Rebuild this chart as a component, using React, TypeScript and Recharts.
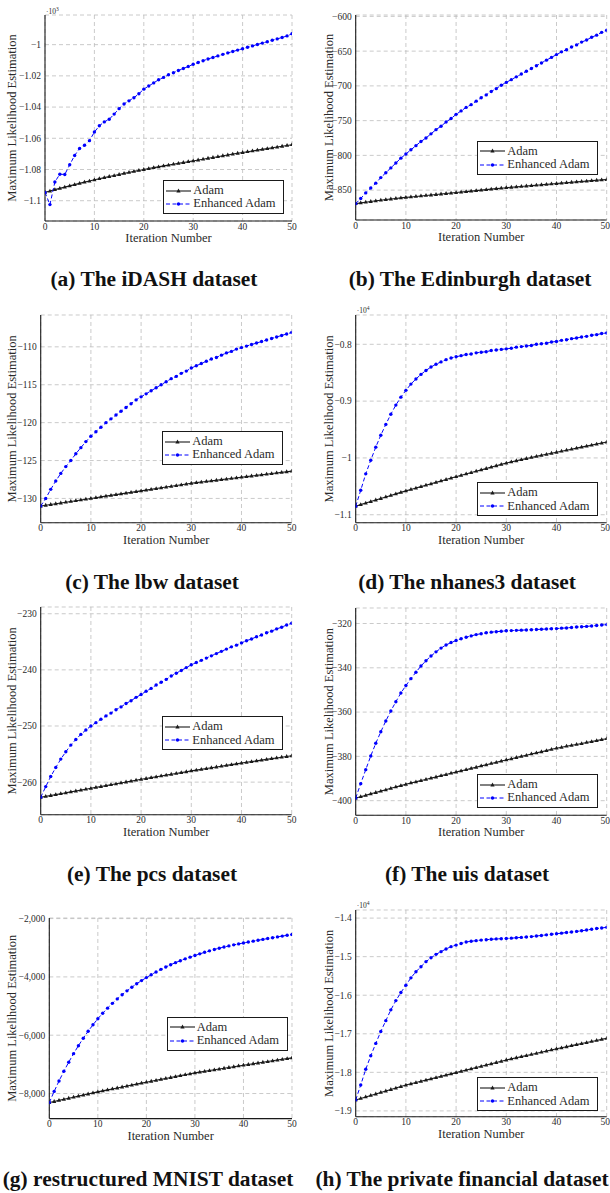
import React from "react";
import { LineChart, Line, XAxis, YAxis, CartesianGrid, Legend } from "recharts";

const SERIF = '"Liberation Serif", "Times New Roman", serif';
const BLUE = "#0000ff";
const INK = "#1a1a1a";
const TEXT = "#2a2a2a";

const iterations = [
  0, 1, 2, 3, 4, 5, 6, 7, 8, 9, 10, 11, 12, 13, 14, 15, 16, 17, 18, 19, 20, 21, 22, 23, 24, 25,
  26, 27, 28, 29, 30, 31, 32, 33, 34, 35, 36, 37, 38, 39, 40, 41, 42, 43, 44, 45, 46, 47, 48, 49, 50,
];
const iterationTicks = [0, 10, 20, 30, 40, 50];

// (a) iDASH
const idashAdam = [
  -1094.7, -1093.8, -1092.9, -1092.1, -1091.3, -1090.5, -1089.7, -1088.9, -1088.1, -1087.4, -1086.6,
  -1085.9, -1085.2, -1084.5, -1083.9, -1083.2, -1082.5, -1081.9, -1081.2, -1080.6, -1080.0,
  -1079.4, -1078.8, -1078.3, -1077.7, -1077.2, -1076.6, -1076.1, -1075.5, -1075.0, -1074.5,
  -1073.9, -1073.4, -1072.8, -1072.3, -1071.8, -1071.2, -1070.7, -1070.1, -1069.6, -1069.1,
  -1068.6, -1068.1, -1067.6, -1067.1, -1066.6, -1066.1, -1065.6, -1065.1, -1064.6, -1064.1,
];
const idashEnhanced = [
  -1094.7, -1102.5, -1088.0, -1083.0, -1083.2, -1077.0, -1071.0, -1066.5, -1064.5, -1061.5, -1056.0,
  -1052.0, -1049.5, -1047.8, -1044.5, -1041.0, -1038.0, -1036.0, -1034.0, -1031.5, -1028.5,
  -1026.5, -1024.5, -1022.5, -1021.0, -1019.3, -1018.0, -1016.6, -1015.3, -1014.0, -1012.6,
  -1011.4, -1010.3, -1009.2, -1008.2, -1007.2, -1006.2, -1005.3, -1004.4, -1003.5, -1002.6,
  -1001.7, -1000.8, -999.9, -999.0, -998.1, -997.2, -996.3, -995.4, -994.4, -993.0,
];
const idashTicks = [-1100, -1080, -1060, -1040, -1020, -1000];

// (b) Edinburgh
const edinburghAdam = [
  -869.5, -868.4, -867.4, -866.4, -865.4, -864.5, -863.6, -862.8, -862.0, -861.2, -860.5,
  -859.8, -859.1, -858.4, -857.7, -857.0, -856.3, -855.6, -854.9, -854.2, -853.5,
  -852.8, -852.1, -851.4, -850.7, -850.0, -849.3, -848.6, -847.9, -847.2, -846.5,
  -845.9, -845.3, -844.7, -844.1, -843.5, -842.9, -842.3, -841.7, -841.1, -840.5,
  -839.9, -839.3, -838.7, -838.1, -837.5, -837.0, -836.4, -835.8, -835.3, -834.7,
];
const edinburghEnhanced = [
  -869.5, -862, -854, -847, -840, -832, -825, -818, -811, -804, -798,
  -792, -786, -780, -775, -769, -763, -758, -752, -747, -741,
  -736, -731, -727, -722, -717, -713, -708, -704, -699, -695,
  -691, -687, -683, -679, -675, -671, -667, -663, -659, -655,
  -651, -648, -644, -641, -637, -634, -630, -627, -623, -620,
];
const edinburghTicks = [-850, -800, -750, -700, -650, -600];

// (c) lbw
const lbwAdam = [
  -131.0, -130.9, -130.8, -130.7, -130.6, -130.5, -130.4, -130.3, -130.2, -130.1, -130.0,
  -129.9, -129.8, -129.7, -129.6, -129.5, -129.4, -129.3, -129.2, -129.1, -129.0,
  -128.9, -128.8, -128.7, -128.6, -128.5, -128.4, -128.3, -128.2, -128.1, -128.0,
  -127.92, -127.84, -127.76, -127.68, -127.6, -127.52, -127.44, -127.36, -127.28, -127.2,
  -127.12, -127.04, -126.96, -126.88, -126.8, -126.72, -126.64, -126.56, -126.48, -126.4,
];
const lbwEnhanced = [
  -131.0, -130.0, -128.8, -127.7, -126.7, -125.8, -125.0, -124.1, -123.3, -122.5, -121.8,
  -121.2, -120.6, -120.0, -119.5, -119.0, -118.5, -118.0, -117.5, -117.0, -116.6,
  -116.2, -115.8, -115.4, -115.0, -114.6, -114.2, -113.9, -113.5, -113.2, -112.8,
  -112.5, -112.2, -111.9, -111.6, -111.4, -111.1, -110.8, -110.6, -110.3, -110.1,
  -109.9, -109.7, -109.5, -109.3, -109.1, -108.9, -108.7, -108.5, -108.3, -108.1,
];
const lbwTicks = [-130, -125, -120, -115, -110];

// (d) nhanes3
const nhanesAdam = [
  -10850, -10822, -10795, -10768, -10741, -10714, -10687, -10660, -10633, -10606, -10580,
  -10555, -10530, -10505, -10480, -10455, -10430, -10405, -10380, -10355, -10330,
  -10306, -10282, -10258, -10234, -10210, -10186, -10162, -10138, -10114, -10090,
  -10070, -10050, -10030, -10010, -9991, -9972, -9954, -9936, -9918, -9900,
  -9882, -9864, -9846, -9828, -9810, -9792, -9774, -9756, -9738, -9720,
];
const nhanesEnhanced = [
  -10850, -10570, -10280, -10040, -9810, -9600, -9410, -9230, -9070, -8930, -8810,
  -8700, -8610, -8530, -8460, -8400, -8350, -8310, -8270, -8240, -8220,
  -8200, -8180, -8170, -8150, -8140, -8130, -8110, -8100, -8090, -8080,
  -8070, -8050, -8040, -8030, -8020, -8000, -7990, -7980, -7960, -7950,
  -7930, -7920, -7900, -7890, -7870, -7860, -7840, -7830, -7810, -7800,
];
const nhanesTicks = [-11000, -10000, -9000, -8000];

// (e) pcs
const pcsAdam = [
  -262.7, -262.54, -262.38, -262.22, -262.06, -261.9, -261.74, -261.58, -261.42, -261.26, -261.1,
  -260.94, -260.78, -260.62, -260.46, -260.3, -260.14, -259.98, -259.82, -259.66, -259.5,
  -259.35, -259.2, -259.05, -258.9, -258.75, -258.6, -258.45, -258.3, -258.15, -258.0,
  -257.86, -257.72, -257.58, -257.44, -257.3, -257.16, -257.02, -256.88, -256.74, -256.6,
  -256.47, -256.34, -256.21, -256.08, -255.95, -255.82, -255.69, -255.56, -255.43, -255.3,
];
const pcsEnhanced = [
  -262.7, -260.8, -259.0, -257.4, -255.9, -254.6, -253.4, -252.4, -251.5, -250.7, -250.0,
  -249.4, -248.8, -248.2, -247.7, -247.1, -246.6, -246.0, -245.5, -244.9, -244.4,
  -243.8, -243.3, -242.7, -242.2, -241.7, -241.1, -240.6, -240.1, -239.6, -239.1,
  -238.7, -238.3, -237.9, -237.5, -237.1, -236.7, -236.3, -235.9, -235.6, -235.2,
  -234.8, -234.5, -234.1, -233.8, -233.4, -233.1, -232.7, -232.4, -232.0, -231.7,
];
const pcsTicks = [-260, -250, -240, -230];

// (f) uis
const uisAdam = [
  -398.8, -398.2, -397.6, -396.9, -396.3, -395.7, -395.1, -394.4, -393.8, -393.2, -392.6,
  -392.0, -391.5, -390.9, -390.4, -389.8, -389.3, -388.7, -388.2, -387.6, -387.1,
  -386.5, -386.0, -385.4, -384.9, -384.3, -383.8, -383.2, -382.7, -382.1, -381.6,
  -381.1, -380.5, -380.0, -379.5, -378.9, -378.4, -377.9, -377.4, -376.8, -376.3,
  -375.9, -375.4, -375.0, -374.6, -374.2, -373.7, -373.3, -372.9, -372.4, -372.0,
];
const uisEnhanced = [
  -398.8, -392.3, -386.0, -379.8, -374.1, -368.9, -364.0, -359.5, -355.3, -351.4, -348.0,
  -344.9, -342.0, -339.2, -336.8, -334.7, -332.8, -331.1, -329.7, -328.6, -327.7,
  -326.9, -326.2, -325.6, -325.0, -324.6, -324.2, -323.9, -323.7, -323.5, -323.3,
  -323.2, -323.1, -323.0, -322.9, -322.8, -322.7, -322.6, -322.5, -322.4, -322.3,
  -322.1, -322.0, -321.8, -321.6, -321.5, -321.3, -321.1, -320.9, -320.7, -320.5,
];
const uisTicks = [-400, -380, -360, -340, -320];

// (g) restructured MNIST
const mnistAdam = [
  -8310, -8273, -8236, -8199, -8162, -8126, -8089, -8052, -8016, -7979, -7943,
  -7909, -7876, -7843, -7810, -7777, -7743, -7710, -7677, -7644, -7611,
  -7579, -7547, -7515, -7483, -7451, -7419, -7387, -7355, -7323, -7291,
  -7265, -7239, -7212, -7186, -7160, -7134, -7108, -7081, -7055, -7029,
  -7004, -6979, -6953, -6928, -6903, -6878, -6853, -6827, -6802, -6777,
];
const mnistEnhanced = [
  -8310, -7928, -7571, -7237, -6925, -6633, -6360, -6105, -5866, -5643, -5434,
  -5247, -5072, -4908, -4755, -4612, -4478, -4353, -4236, -4127, -4025,
  -3924, -3830, -3742, -3660, -3583, -3511, -3444, -3381, -3322, -3267,
  -3210, -3157, -3107, -3060, -3016, -2975, -2937, -2901, -2868, -2837,
  -2805, -2774, -2744, -2714, -2685, -2656, -2628, -2601, -2574, -2547,
];
const mnistTicks = [-8000, -6000, -4000, -2000];

// (h) private financial
const financialAdam = [
  -18715, -18676, -18638, -18599, -18561, -18522, -18484, -18445, -18407, -18368, -18330,
  -18298, -18265, -18233, -18201, -18169, -18136, -18104, -18072, -18039, -18007,
  -17974, -17942, -17909, -17876, -17844, -17811, -17778, -17745, -17713, -17680,
  -17651, -17622, -17593, -17564, -17535, -17506, -17477, -17448, -17419, -17390,
  -17363, -17336, -17308, -17281, -17254, -17227, -17199, -17172, -17145, -17117,
];
const financialEnhanced = [
  -18715, -18330, -17920, -17570, -17250, -16940, -16660, -16380, -16140, -15930, -15740,
  -15550, -15390, -15260, -15130, -15030, -14940, -14870, -14800, -14740, -14700,
  -14660, -14620, -14600, -14585, -14570, -14560, -14550, -14540, -14535, -14530,
  -14520, -14510, -14500, -14490, -14480, -14465, -14450, -14435, -14420, -14405,
  -14390, -14375, -14360, -14345, -14330, -14310, -14290, -14270, -14255, -14240,
];
const financialTicks = [-19000, -18000, -17000, -16000, -15000, -14000];

const minus = (s: string) => s.replace("-", "\u2212");
const plain = (v: number) => minus(String(v));
const withComma = (v: number) => minus(v.toLocaleString("en-US"));
const scaled = (k: number) => (v: number) => minus(String(parseFloat((v / k).toFixed(2))));

interface Panel {
  key: string;
  caption: string;
  adam: number[];
  enhanced: number[];
  domain: [number, number];
  ticks: number[];
  format: (v: number) => string;
  exponent?: string;
  col: number;
  plot: { l: number; r: number; t: number; b: number };
  legend: { x: number; y: number };
  captionPos: { x: number; y: number };
}

const panels: Panel[] = [
  {
    key: "a", caption: "(a) The iDASH dataset", adam: idashAdam, enhanced: idashEnhanced,
    domain: [-1113, -981], ticks: idashTicks, format: scaled(1000), exponent: "3", col: 0,
    plot: { l: 45, r: 292, t: 15, b: 221 }, legend: { x: 163.3, y: 180 }, captionPos: { x: 154, y: 287 },
  },
  {
    key: "b", caption: "(b) The Edinburgh dataset", adam: edinburghAdam, enhanced: edinburghEnhanced,
    domain: [-893, -598], ticks: edinburghTicks, format: plain, col: 1,
    plot: { l: 355.7, r: 606.7, t: 15, b: 220 }, legend: { x: 477.3, y: 140.7 }, captionPos: { x: 470, y: 287 },
  },
  {
    key: "c", caption: "(c) The lbw dataset", adam: lbwAdam, enhanced: lbwEnhanced,
    domain: [-133.2, -105.8], ticks: lbwTicks, format: plain, col: 0,
    plot: { l: 40.7, r: 291.7, t: 315, b: 522.7 }, legend: { x: 162.3, y: 431 }, captionPos: { x: 152, y: 590 },
  },
  {
    key: "d", caption: "(d) The nhanes3 dataset", adam: nhanesAdam, enhanced: nhanesEnhanced,
    domain: [-11140, -7484], ticks: nhanesTicks, format: scaled(10000), exponent: "4", col: 1,
    plot: { l: 355.7, r: 606.7, t: 315, b: 522.7 }, legend: { x: 477.3, y: 482.3 }, captionPos: { x: 467, y: 590 },
  },
  {
    key: "e", caption: "(e) The pcs dataset", adam: pcsAdam, enhanced: pcsEnhanced,
    domain: [-265.8, -228.8], ticks: pcsTicks, format: plain, col: 0,
    plot: { l: 40.7, r: 291.7, t: 607.3, b: 815 }, legend: { x: 162.3, y: 716.3 }, captionPos: { x: 152, y: 882 },
  },
  {
    key: "f", caption: "(f) The uis dataset", adam: uisAdam, enhanced: uisEnhanced,
    domain: [-406.6, -313], ticks: uisTicks, format: plain, col: 1,
    plot: { l: 355.7, r: 606.7, t: 607.7, b: 815 }, legend: { x: 477.3, y: 774 }, captionPos: { x: 467, y: 882 },
  },
  {
    key: "g", caption: "(g) restructured MNIST dataset", adam: mnistAdam, enhanced: mnistEnhanced,
    domain: [-8860, -1980], ticks: mnistTicks, format: withComma, col: 0,
    plot: { l: 49.3, r: 292, t: 917.7, b: 1118.3 }, legend: { x: 166.7, y: 1016.7 }, captionPos: { x: 148, y: 1187 },
  },
  {
    key: "h", caption: "(h) The private financial dataset", adam: financialAdam, enhanced: financialEnhanced,
    domain: [-19150, -13790], ticks: financialTicks, format: scaled(10000), exponent: "4", col: 1,
    plot: { l: 355.7, r: 606.7, t: 910, b: 1116.7 }, legend: { x: 477.3, y: 1077.3 }, captionPos: { x: 462, y: 1187 },
  },
];

const TriangleDot = (props: any) => {
  const { cx, cy, index } = props;
  if (cx == null || cy == null) return <g key={index} />;
  return (
    <polygon
      key={index}
      points={`${cx},${cy - 2.4} ${cx - 2.1},${cy + 1.4} ${cx + 2.1},${cy + 1.4}`}
      fill={INK}
    />
  );
};

const BlueDot = (props: any) => {
  const { cx, cy, index } = props;
  if (cx == null || cy == null) return <g key={index} />;
  return <circle key={index} cx={cx} cy={cy} r={1.7} fill={BLUE} stroke="none" />;
};

const LegendBox = () => (
  <div
    style={{
      boxSizing: "border-box",
      width: 121,
      height: 34,
      border: `1px solid ${INK}`,
      background: "#fff",
      padding: "3px 0 0 2px",
      fontFamily: SERIF,
      fontSize: 12.5,
      color: TEXT,
      lineHeight: "13.3px",
      whiteSpace: "nowrap",
    }}
  >
    <div style={{ display: "flex", alignItems: "center", height: 13.3 }}>
      <svg width={25} height={8}>
        <line x1={0} y1={4} x2={25} y2={4} stroke={INK} strokeWidth={1.1} />
        <polygon points="12.5,1.6 10.4,5.4 14.6,5.4" fill={INK} />
      </svg>
      <span style={{ marginLeft: 2 }}>Adam</span>
    </div>
    <div style={{ display: "flex", alignItems: "center", height: 13.3 }}>
      <svg width={25} height={8}>
        <line x1={0} y1={4} x2={25} y2={4} stroke={BLUE} strokeWidth={1} strokeDasharray="4 2.5" />
        <circle cx={12.5} cy={4} r={1.7} fill={BLUE} />
      </svg>
      <span style={{ marginLeft: 2 }}>Enhanced Adam</span>
    </div>
  </div>
);

function PanelChart({ p }: { p: Panel }) {
  const left = p.col === 0 ? 0 : 305;
  const top = p.plot.t - 15;
  const width = 305;
  const height = p.plot.b - p.plot.t + 15 + 35;
  const data = iterations.map((it, i) => ({ it, adam: p.adam[i], enhanced: p.enhanced[i] }));
  const tickStyle = { fontSize: 9.5, fill: TEXT, fontFamily: SERIF };

  return (
    <div style={{ position: "absolute", left, top, width, height }}>
      <LineChart
        width={width}
        height={height}
        data={data}
        margin={{ top: 15, right: left + 305 - p.plot.r, bottom: 0, left: 0 }}
      >
        <CartesianGrid stroke="#bcbcbc" strokeDasharray="4 3" strokeWidth={0.8} />
        <XAxis
          dataKey="it"
          type="number"
          domain={[0, 50]}
          ticks={iterationTicks}
          allowDataOverflow
          height={35}
          tickSize={0}
          tickMargin={2}
          tickLine={false}
          axisLine={{ stroke: INK, strokeWidth: 1.1 }}
          tick={tickStyle}
          label={{
            value: "Iteration Number",
            position: "insideBottom",
            offset: 14,
            fontSize: 12.5,
            fill: TEXT,
            fontFamily: SERIF,
          }}
        />
        <XAxis
          xAxisId="top"
          orientation="top"
          dataKey="it"
          type="number"
          domain={[0, 50]}
          height={0}
          tick={false}
          tickLine={false}
          axisLine={{ stroke: INK, strokeWidth: 1.1 }}
        />
        <YAxis
          type="number"
          domain={p.domain}
          ticks={p.ticks}
          allowDataOverflow
          width={p.plot.l - left}
          tickSize={0}
          tickMargin={4}
          tickLine={false}
          tickFormatter={p.format}
          axisLine={{ stroke: INK, strokeWidth: 1.1 }}
          tick={tickStyle}
          label={{
            value: "Maximum Likelihood Estimation",
            angle: -90,
            position: "insideLeft",
            offset: p.col === 0 ? 12 : 23.6,
            fontSize: 12.5,
            fill: TEXT,
            fontFamily: SERIF,
            textAnchor: "middle",
            style: { textAnchor: "middle" },
          }}
        />
        <YAxis
          yAxisId="right"
          orientation="right"
          type="number"
          domain={p.domain}
          allowDataOverflow
          width={0}
          tick={false}
          tickLine={false}
          axisLine={{ stroke: INK, strokeWidth: 1.1 }}
        />
        <Legend
          layout="vertical"
          align="center"
          verticalAlign="middle"
          wrapperStyle={{ left: p.legend.x - left, top: p.legend.y - top, width: 121 }}
          content={LegendBox}
        />
        <Line
          dataKey="adam"
          stroke={INK}
          strokeWidth={1.1}
          dot={TriangleDot}
          activeDot={false}
          isAnimationActive={false}
        />
        <Line
          dataKey="enhanced"
          stroke={BLUE}
          strokeWidth={1}
          strokeDasharray="4 2.5"
          dot={BlueDot}
          activeDot={false}
          isAnimationActive={false}
        />
      </LineChart>
      {p.exponent && (
        <span
          style={{
            position: "absolute",
            left: p.plot.l - left + 1,
            top: p.col === 0 ? 6 : 5,
            fontFamily: SERIF,
            fontSize: 7.5,
            lineHeight: "7.5px",
            color: TEXT,
          }}
        >
          ·10<sup style={{ fontSize: 5.5, verticalAlign: "3px" }}>{p.exponent}</sup>
        </span>
      )}
    </div>
  );
}

export default function App() {
  return (
    <div
      style={{
        position: "absolute",
        left: 0,
        top: 0,
        width: 610,
        height: 1193,
        overflow: "hidden",
        background: "#fff",
      }}
    >
      {panels.map((p) => (
        <PanelChart key={p.key} p={p} />
      ))}
      {panels.map((p) => (
        <div
          key={`cap-${p.key}`}
          style={{
            position: "absolute",
            left: p.captionPos.x - 200,
            top: p.captionPos.y - 18,
            width: 400,
            textAlign: "center",
            fontFamily: SERIF,
            fontWeight: 700,
            fontSize: 21.4,
            lineHeight: "21.4px",
            color: "#111",
            whiteSpace: "nowrap",
          }}
        >
          {p.caption}
        </div>
      ))}
    </div>
  );
}
